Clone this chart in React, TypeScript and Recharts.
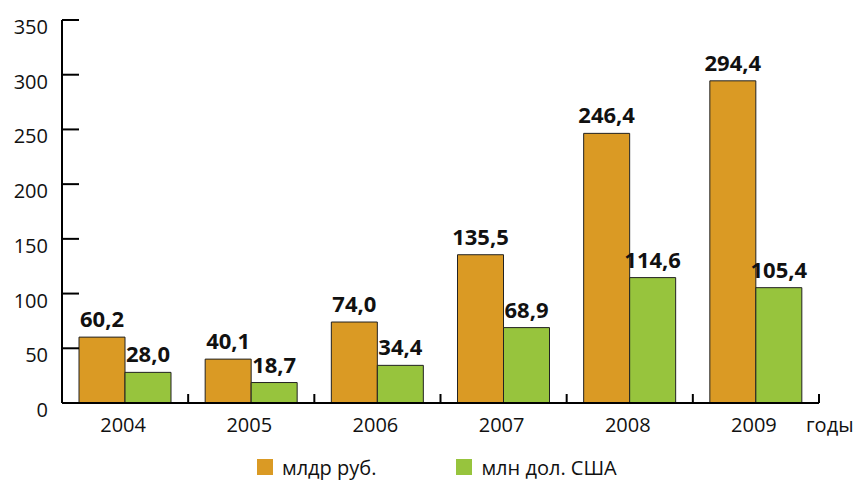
import React from "react";
import { BarChart, Bar, XAxis, YAxis, LabelList, Legend } from "recharts";

const years = ["2004", "2005", "2006", "2007", "2008", "2009"];
const rubValues = [60.2, 40.1, 74.0, 135.5, 246.4, 294.4];
const usdValues = [28.0, 18.7, 34.4, 68.9, 114.6, 105.4];
const yTicks = [0, 50, 100, 150, 200, 250, 300, 350];
const seriesNames = ["млдр руб.", "млн дол. США"];

const ORANGE = "#da9a24";
const GREEN = "#97c43d";
const FONT = "'Open Sans', sans-serif";

const data = years.map((y, i) => ({ year: y, rub: rubValues[i], usd: usdValues[i] }));

const fmt = (v: any) => Number(v).toFixed(1).replace(".", ",");

function YTick(props: any) {
  const { x, y, payload } = props;
  return (
    <g>
      <line x1={x} x2={x + 17} y1={y} y2={y} stroke="#000" strokeWidth={2} />
      <text x={x - 14} y={y} dy={14} textAnchor="end" fontSize={20} fontFamily={FONT} fill="#111">
        {payload.value}
      </text>
    </g>
  );
}

function XTick(props: any) {
  const { x, y, payload } = props;
  const half = payload.offset || 63;
  return (
    <g>
      <line x1={x + half} x2={x + half} y1={y} y2={y - 9} stroke="#000" strokeWidth={2} />
      <text x={x - 2} y={y} dy={29} textAnchor="middle" fontSize={20} fontFamily={FONT} fill="#111">
        {payload.value}
      </text>
    </g>
  );
}

function UnitLabel(props: any) {
  const { viewBox } = props;
  return (
    <text
      x={viewBox.x + viewBox.width - 13}
      y={viewBox.y + 29}
      fontSize={20}
      fontFamily={FONT}
      fill="#111"
    >
      годы
    </text>
  );
}

function LegendContent() {
  const colors = [ORANGE, GREEN];
  return (
    <div style={{ display: "flex", alignItems: "center", paddingLeft: 257, height: 30, fontFamily: FONT, fontSize: 20, color: "#111" }}>
      {seriesNames.map((name, i) => (
        <div key={name} style={{ display: "flex", alignItems: "center", marginRight: 80 }}>
          <span style={{ width: 16, height: 16, background: colors[i], marginRight: 9, display: "inline-block" }} />
          <span>{name}</span>
        </div>
      ))}
    </div>
  );
}

const labelStyle = { fontSize: 22, fontWeight: 700, fontFamily: FONT, fill: "#111" };

export default function App() {
  return (
    <div style={{ position: "absolute", left: 0, top: 0, width: 857, height: 482, background: "#fff", fontFamily: FONT }}>
      <BarChart
        width={857}
        height={482}
        data={data}
        margin={{ top: 20, right: 38, left: 0, bottom: 0 }}
        barCategoryGap={17}
        barGap={0}
      >
        <XAxis
          dataKey="year"
          height={49}
          axisLine={{ stroke: "#000", strokeWidth: 2 }}
          tickLine={false}
          tickSize={0}
          tickMargin={0}
          tick={<XTick />}
          interval={0}
          label={<UnitLabel />}
        />
        <YAxis
          width={62}
          domain={[0, 350]}
          ticks={yTicks}
          axisLine={{ stroke: "#000", strokeWidth: 2 }}
          tickLine={false}
          tickSize={0}
          tickMargin={0}
          tick={<YTick />}
          interval={0}
        />
        <Legend
          verticalAlign="bottom"
          content={<LegendContent />}
          wrapperStyle={{ left: 0, width: 857, bottom: 0, height: 30 }}
        />
        <Bar dataKey="rub" name={seriesNames[0]} fill={ORANGE} stroke="#222" strokeWidth={1} isAnimationActive={false}>
          <LabelList dataKey="rub" position="top" offset={10} formatter={fmt} style={labelStyle} />
        </Bar>
        <Bar dataKey="usd" name={seriesNames[1]} fill={GREEN} stroke="#222" strokeWidth={1} isAnimationActive={false}>
          <LabelList dataKey="usd" position="top" offset={10} formatter={fmt} style={labelStyle} />
        </Bar>
      </BarChart>
    </div>
  );
}
